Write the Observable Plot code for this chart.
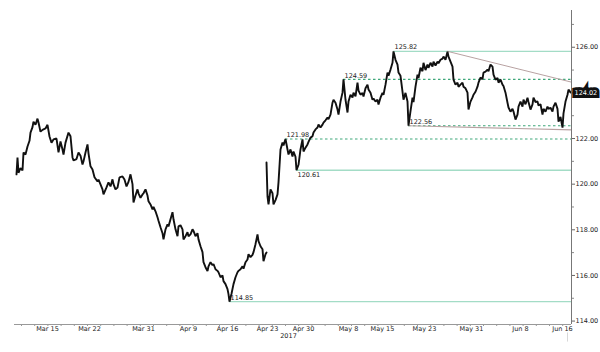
<!DOCTYPE html>
<html><head><meta charset="utf-8">
<script src="https://cdn.jsdelivr.net/npm/d3@7"></script>
<script src="https://cdn.jsdelivr.net/npm/@observablehq/plot@0.6"></script>
<style>body{margin:0;background:#fff}svg{display:block}</style>
</head><body><div id="chart"></div>
<script>
// x unit: chart bar index (intraday bars, weekends collapsed)
const seg1 = [[2,120.43],[3,121.17],[4,120.5],[6,120.7],[8,120.6],[9,121.39],[11,121.3],[13,121.65],[15,121.9],[16,122.26],[18,122.5],[19,122.74],[21,122.6],[23,122.87],[24,122.7],[26,122.3],[28,122.38],[31,122.44],[33,122.6],[35,122.09],[37,121.82],[39,121.96],[42,122.0],[44,121.39],[46,121.87],[48,121.52],[49,121.3],[51,121.82],[54,122.26],[56,122.1],[58,121.17],[59,121.04],[62,121.1],[64,121.39],[66,121.25],[68,120.86],[69,121.0],[71,121.39],[73,121.74],[74,121.35],[76,120.78],[78,120.64],[80,120.3],[83,120.12],[84,120.2],[86,119.99],[88,119.77],[89,119.55],[92,119.86],[94,120.08],[96,119.9],[98,120.21],[99,120.0],[101,119.77],[103,119.85],[105,120.3],[108,120.34],[110,120.2],[112,119.9],[114,120.1],[116,120.43],[118,120.0],[119,119.2],[121,119.5],[123,119.77],[124,119.6],[126,119.4],[128,119.55],[129,119.6],[131,119.77],[133,119.5],[134,119.25],[136,119.11],[138,118.9],[139,119.0],[141,118.81],[143,118.55],[144,118.4],[146,118.11],[148,117.85],[149,117.58],[151,118.02],[153,118.24],[154,118.15],[156,118.46],[158,118.77],[159,118.46],[161,118.02],[163,117.72],[164,118.15],[166,118.2],[168,118.02],[169,117.58],[171,117.72],[173,117.89],[174,117.72],[176,117.8],[178,118.02],[179,117.95],[181,117.72],[183,117.85],[184,117.58],[186,117.28],[188,117.02],[189,116.58],[191,116.36],[193,116.19],[194,116.4],[196,116.58],[198,116.45],[199,116.5],[201,116.27],[203,116.2],[204,116.14],[206,115.92],[208,116.0],[209,115.75],[211,115.62],[213,115.4],[214,115.18],[215,114.85],[217,115.2],[219,115.62],[221,115.92],[223,116.14],[224,116.2],[226,116.27],[228,116.4],[229,116.3],[231,116.58],[233,116.7],[234,116.93],[236,116.8],[238,116.9],[239,117.02],[241,117.37],[243,117.8],[244,117.5],[246,117.28],[248,117.15],[249,116.62],[251,116.93],[252,117.0]];
const seg2 = [[252,120.95],[253,119.46],[254,119.11],[256,119.77],[258,119.6],[259,119.11],[261,119.3],[263,119.55],[264,120.08],[266,121.52],[268,121.82],[269,121.7],[271,121.98],[273,121.52],[274,121.3],[276,121.52],[278,121.21],[279,121.43],[281,121.2],[282,120.61],[284,120.85],[286,121.52],[288,121.96],[289,121.43],[291,121.6],[293,121.74],[294,121.85],[296,122.04],[298,122.1],[299,122.26],[301,122.4],[303,122.48],[304,122.61],[306,122.48],[308,122.61],[309,122.7],[311,122.8],[313,122.92],[314,122.85],[316,123.05],[318,123.57],[319,123.7],[321,123.57],[323,123.27],[324,123.05],[326,123.62],[328,124.01],[329,124.59],[331,123.7],[333,123.14],[334,123.62],[336,123.92],[338,123.8],[339,124.01],[341,123.85],[343,124.45],[344,124.1],[346,123.92],[348,124.0],[349,123.84],[351,124.2],[353,124.36],[354,124.15],[356,124.01],[358,123.7],[359,123.75],[361,123.62],[363,123.7],[364,123.49],[366,123.79],[368,124.0],[369,123.92],[371,124.36],[373,124.89],[374,124.75],[376,125.02],[378,125.32],[379,125.82],[381,125.45],[383,125.24],[384,124.89],[386,124.75],[388,124.05],[389,123.7],[391,124.0],[393,123.62],[394,122.56],[396,123.2],[398,123.79],[399,123.6],[401,124.27],[403,124.8],[404,124.65],[406,125.1],[408,124.95],[409,125.32],[411,125.0],[413,125.24],[414,125.1],[416,125.32],[418,125.15],[419,125.37],[421,125.2],[423,125.37],[424,125.3],[426,125.45],[428,125.5],[429,125.59],[431,125.45],[433,125.8],[434,125.59],[436,125.37],[438,125.15],[439,124.58],[441,124.36],[443,124.45],[444,124.27],[446,124.36],[448,124.45],[449,124.27],[451,124.2],[453,124.01],[454,123.27],[456,123.62],[458,123.8],[459,123.92],[461,124.05],[463,124.27],[464,124.45],[466,124.67],[468,124.6],[469,124.89],[471,124.93],[473,125.02],[474,124.95],[476,125.24],[478,125.15],[479,124.8],[481,124.58],[483,124.65],[484,124.45],[486,124.58],[488,124.36],[489,124.3],[491,124.01],[493,123.57],[494,123.36],[496,123.18],[498,123.3],[499,123.18],[501,122.83],[503,123.05],[504,123.4],[506,123.62],[508,123.4],[509,123.7],[511,123.5],[513,123.79],[514,123.6],[516,123.27],[518,123.5],[519,123.79],[521,123.6],[523,123.62],[524,123.45],[526,123.5],[528,123.05],[529,123.3],[531,123.18],[533,123.4],[534,123.3],[536,123.35],[538,123.18],[539,123.4],[541,123.57],[543,123.3],[544,122.74],[546,122.95],[548,122.48],[549,123.1],[551,123.62],[553,123.92],[554,124.14],[556,124.02]];

const lastPrice = 124.02;

const solidLevelValues = [125.82, 120.61, 114.85];
const solidLevelStarts = [379, 282, 215];
const dashedLevelValues = [124.59, 122.56, 121.98];
const dashedLevelStarts = [329, 394, 271];

const trendUpper = [[433, 125.82], [557, 124.47]];
const trendLower = [[394, 122.56], [557, 122.38]];

const xTickPositions = [33, 75, 129, 174, 213, 253, 289, 334, 368, 410, 457, 506, 548];
const xTickLabels = ["Mar 15","Mar 22","Mar 31","Apr 9","Apr 16","Apr 23","Apr 30","May 8","May 15","May 23","May 31","Jun 8","Jun 16"];
const yearLabel = ["2017"];
const yearLabelPos = 274;
const yTicks = [114, 116, 118, 120, 122, 126];
const yMinorTicks = [115, 117, 119, 121, 123, 124, 125, 127];

const xEnd = 557;
const yDomain = [113.85, 127.61];

const rows = [
  ...seg1.map(([x, v]) => ({x, v, s: "a"})),
  ...seg2.map(([x, v]) => ({x, v, s: "b"}))
];
const levels = [
  ...solidLevelValues.map((v, i) => ({v, x1: solidLevelStarts[i], solid: true})),
  ...dashedLevelValues.map((v, i) => ({v, x1: dashedLevelStarts[i], solid: false}))
];
const fmt = d3.format(".2f");
const labelMap = new Map(xTickPositions.map((p, i) => [p, xTickLabels[i]]));
const xMinor = d3.range(7, xEnd, 13.2);

const solidGreen = "#a3dcc6";
const dashGreen = "#3fa77a";
const trendColor = "#b8a2a2";

const chart = Plot.plot({
  width: 600, height: 352,
  marginLeft: 14, marginRight: 29, marginTop: 10, marginBottom: 28,
  style: {fontFamily: "'DejaVu Sans', sans-serif", fontSize: "6.5px", color: "#222", background: "#fff"},
  x: {type: "linear", domain: [0, xEnd], axis: null},
  y: {type: "linear", domain: yDomain, axis: null},
  marks: [
    Plot.ruleY(levels.filter(d => d.solid), {y: "v", x1: "x1", x2: xEnd, stroke: solidGreen, strokeWidth: 1.3}),
    Plot.ruleY(levels.filter(d => !d.solid), {y: "v", x1: "x1", x2: xEnd, stroke: dashGreen, strokeWidth: 1.2, strokeDasharray: "2.5,2.5"}),
    Plot.line(trendUpper, {x: d => d[0], y: d => d[1], stroke: trendColor, strokeWidth: 1}),
    Plot.line(trendLower, {x: d => d[0], y: d => d[1], stroke: trendColor, strokeWidth: 1.2}),
    Plot.line(rows, {x: "x", y: "v", z: "s", stroke: "#111", strokeWidth: 1.9, strokeLinejoin: "miter"}),
    Plot.text(levels.filter(d => d.v !== 120.61), {x: "x1", y: "v", text: d => fmt(d.v), textAnchor: "start", dx: 1, dy: -4, fill: "#222"}),
    Plot.text(levels.filter(d => d.v === 120.61), {x: "x1", y: "v", text: d => fmt(d.v), textAnchor: "start", dx: 1, dy: 5, fill: "#222"}),
    Plot.ruleX([xEnd], {stroke: "#777", strokeWidth: 1}),
    Plot.ruleY([yDomain[0]], {stroke: "#999", strokeWidth: 1}),
    Plot.axisX({ticks: xMinor, tickFormat: () => "", tickSize: 2, stroke: "#999", label: null}),
    Plot.axisX({ticks: xTickPositions, tickFormat: d => labelMap.get(d), tickSize: 0, tickPadding: 2, fill: "#222", label: null}),
    Plot.text(yearLabel, {x: yearLabelPos, frameAnchor: "bottom", dy: 13, text: d => d, fill: "#222"}),
    Plot.axisY({anchor: "right", ticks: yTicks, tickFormat: fmt, tickSize: 3, tickPadding: 1, stroke: "#666", fill: "#222", label: null}),
    Plot.axisY({anchor: "right", ticks: yMinorTicks, tickFormat: () => "", tickSize: 2, stroke: "#888", label: null}),
    Plot.text([lastPrice], {x: xEnd, y: d => d, text: fmt, textAnchor: "start", dx: 3, fill: "white", stroke: "#111", strokeWidth: 6, strokeLinejoin: "miter"}),
    Plot.ruleX([553], {y1: 113.48, y2: 113.08, stroke: "#d8d8d8", clip: false})
  ]
});
document.getElementById("chart").appendChild(chart);
</script>
</body></html>
